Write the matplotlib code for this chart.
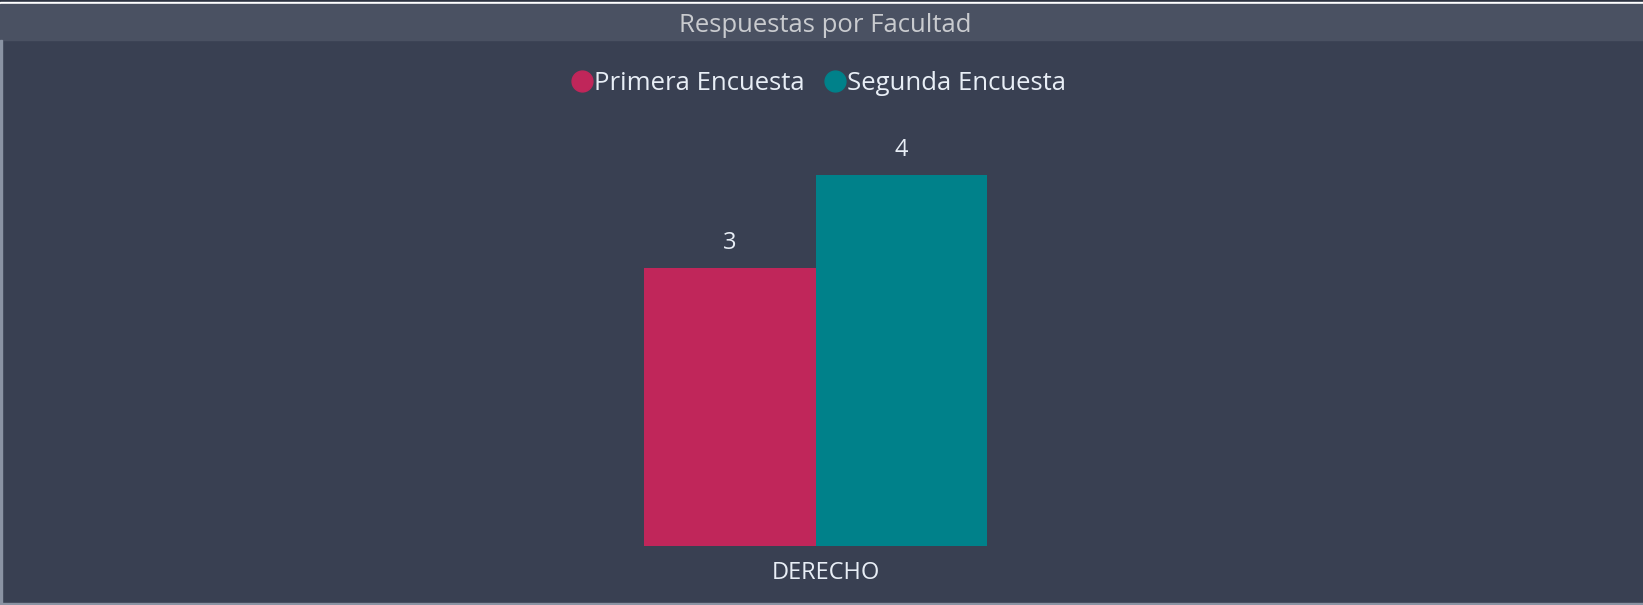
import matplotlib.pyplot as plt
import matplotlib.transforms as mtransforms
from matplotlib.patches import Rectangle
from matplotlib.lines import Line2D

# data
categories = ["DERECHO"]
series_names = ["Primera Encuesta", "Segunda Encuesta"]
primera = [3]
segunda = [4]
colors = ["#C0265A", "#00818A"]

W, H = 1643, 605
bg = "#394052"
bar_bg = "#4A5162"
txt = "#E8EEF6"
plt.rcParams['font.family'] = ['Open Sans', 'DejaVu Sans']

fig = plt.figure(figsize=(W / 100, H / 100), dpi=100)
fig.patch.set_facecolor(bg)

# frame decorations (pixel coords from top)
def px_rect(x0, y0, x1, y1, color):
    fig.patches.append(Rectangle((x0 / W, 1 - y1 / H), (x1 - x0) / W, (y1 - y0) / H,
                                 transform=fig.transFigure, color=color, zorder=0))

px_rect(0, 0, W, 2, "#2E3442")
px_rect(0, 2, W, 4, "#FFFFFF")
px_rect(0, 4, W, 40, bar_bg)
px_rect(0, 40, 2, H, "#8A93A3")
px_rect(0, H - 2, W, H, "#8A93A3")

fig.text(825 / W, 1 - 26 / H, "Respuestas por Facultad", ha='center', va='center',
         color="#C9CBCF", fontsize=18.5)

# axes placement in pixels
ax_left, ax_right, ax_top, ax_bottom = 40, 1603, 110, 546
ax = fig.add_axes([ax_left / W, 1 - ax_bottom / H, (ax_right - ax_left) / W, (ax_bottom - ax_top) / H])
ax.set_facecolor(bg)

width = 0.4
px_per_unit = (987 - 644) / (2 * width)
center_px = (644 + 987) / 2
ax.set_xlim((ax_left - center_px) / px_per_unit, (ax_right - center_px) / px_per_unit)
px_per_val = (546 - 175) / 4.0
ax.set_ylim(0, (ax_bottom - ax_top) / px_per_val)

x = list(range(len(categories)))
b1 = ax.bar([i - width / 2 for i in x], primera, width, color=colors[0], label=series_names[0])
b2 = ax.bar([i + width / 2 for i in x], segunda, width, color=colors[1], label=series_names[1])
for bars in (b1, b2):
    ax.bar_label(bars, padding=9, color=txt, fontsize=17)

ax.set_xticks(x)
ax.set_xticklabels(categories, color=txt, fontsize=17)
ax.tick_params(axis='x', length=0, pad=11)
# category label sits slightly right of the group centre in the original
shift = mtransforms.ScaledTranslation(10 / 100, 0, fig.dpi_scale_trans)
for lbl in ax.get_xticklabels():
    lbl.set_transform(lbl.get_transform() + shift)
ax.set_yticks([])
for s in ax.spines.values():
    s.set_visible(False)

handles = [Line2D([], [], marker='o', linestyle='none', markersize=15, color=c) for c in colors]
leg = fig.legend(handles, series_names, loc='center', bbox_to_anchor=(818 / W, 1 - 83 / H),
                 ncol=2, frameon=False, fontsize=18.5, handletextpad=0.0, columnspacing=0.75,
                 handlelength=0.9)
for t in leg.get_texts():
    t.set_color(txt)

fig.savefig("out.png", dpi=100, facecolor=bg)
